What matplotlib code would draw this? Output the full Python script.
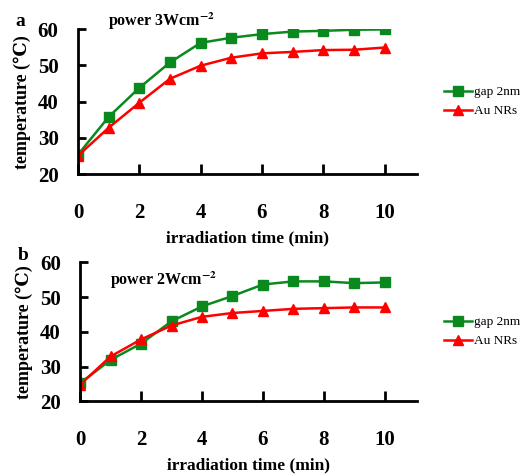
import matplotlib
matplotlib.use("Agg")
import matplotlib.pyplot as plt

plt.rcParams['font.family'] = ['Liberation Serif', 'DejaVu Serif']
plt.rcParams['mathtext.fontset'] = 'stix'

# irradiation time (min)
time_min = [0, 1, 2, 3, 4, 5, 6, 7, 8, 9, 10]

# panel a: power 3 W cm-2
gap_a = [25.4, 35.8, 43.8, 50.8, 56.2, 57.6, 58.6, 59.3, 59.5, 59.8, 59.9]
aunr_a = [25.1, 32.8, 39.7, 46.3, 49.9, 52.1, 53.3, 53.7, 54.2, 54.3, 54.9]

# panel b: power 2 W cm-2
gap_b = [25.2, 31.9, 36.6, 43.0, 47.3, 50.3, 53.6, 54.5, 54.5, 54.0, 54.2]
aunr_b = [24.8, 32.9, 37.8, 41.8, 44.3, 45.4, 46.0, 46.6, 46.8, 47.0, 47.0]

panels = [
    ("a", "power 3Wcm$^{\\mathbf{-2}}$", gap_a, aunr_a, [0.148, 0.634, 0.643, 0.305], 1.05),
    ("b", "power 2Wcm$^{\\mathbf{-2}}$", gap_b, aunr_b, [0.152, 0.157, 0.639, 0.292], 0.87),
]

fig = plt.figure(figsize=(5.27, 4.76), dpi=100)

for letter, power, gap, aunr, rect, ty in panels:
    ax = fig.add_axes(rect)
    ax.plot(time_min, gap, color='#0a8a1e', marker='s', markersize=6.5,
            linewidth=1.8, label='gap 2nm')
    ax.plot(time_min, aunr, color='#ff0000', marker='^', markersize=7.5,
            linewidth=1.8, label='Au NRs')
    ax.set_xlim(0, 11.05)
    ax.set_ylim(20, 60)
    ax.set_xticks([0, 2, 4, 6, 8, 10])
    ax.set_yticks([20, 30, 40, 50, 60])
    ax.spines['top'].set_visible(False)
    ax.spines['right'].set_visible(False)
    for s in ('left', 'bottom'):
        ax.spines[s].set_linewidth(2)
    ax.tick_params(axis='x', direction='in', length=7, width=2, pad=21,
                   labelsize=15)
    ax.tick_params(axis='y', direction='in', length=6, width=2, pad=14,
                   labelsize=15)
    for lab in ax.get_xticklabels() + ax.get_yticklabels():
        lab.set_fontweight('bold')
    ax.set_xlabel('irradiation time (min)', fontsize=12.5, fontweight='bold',
                  labelpad=5)
    ax.set_ylabel('temperature (℃)', fontsize=13, fontweight='bold',
                  labelpad=5)
    ax.text(0.09, ty, power, transform=ax.transAxes, fontsize=11.5,
            fontweight='bold', va='center', ha='left')
    ax.text(-0.17, 1.05, letter, transform=ax.transAxes, fontsize=14,
            fontweight='bold', va='center', ha='center')
    ax.legend(loc='center left', bbox_to_anchor=(1.065, 0.5), frameon=False,
              fontsize=9.5, handlelength=2.1, handletextpad=0.15,
              labelspacing=0.5, borderaxespad=0)

fig.savefig('out.png', dpi=100)
